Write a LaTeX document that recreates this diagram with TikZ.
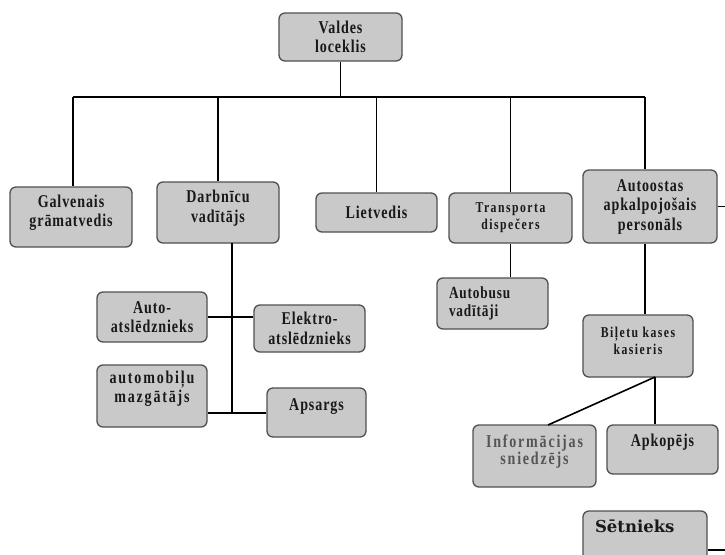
\documentclass[tikz,border=0pt]{standalone}
\usepackage{fontspec}
\setmainfont{Liberation Serif}[FakeStretch=0.78,LetterSpace=5]
\newfontfamily\wideserif{Liberation Serif}[FakeStretch=0.78,LetterSpace=10]
\newfontfamily\setfont{DejaVu Serif}
\definecolor{boxfill}{RGB}{201,201,201}
\definecolor{boxline}{RGB}{80,80,80}
\definecolor{txtgray}{RGB}{85,85,85}
\begin{document}
\begin{tikzpicture}[x=1pt,y=-1pt,
  box/.style={draw=boxline, fill=boxfill, line width=1.3pt, rounded corners=6pt,
    inner sep=0pt, align=center, text=black!90,
    font=\fontsize{18}{19.5}\selectfont\bfseries},
  smallbox/.style={box, font=\wideserif\fontsize{15}{17}\selectfont\bfseries},
  link/.style={line width=1.6pt, black}]
\useasboundingbox (0,0) rectangle (725,554);
\clip (0,0) rectangle (725,554);

% boxes
\node[box, minimum width=123pt, minimum height=48pt] (valdes) at (340.5,37) {Valdes\\loceklis};
\node[box, minimum width=122pt, minimum height=60pt, text depth=12pt] (galv) at (71,217) {Galvenais\\grāmatvedis};
\node[box, minimum width=122pt, minimum height=61pt, text depth=12pt] (darb) at (218,212.5) {Darbnīcu\\vadītājs};
\node[box, minimum width=121pt, minimum height=39pt] (liet) at (376.5,212.5) {Lietvedis};
\node[smallbox, minimum width=123pt, minimum height=50pt] (trans) at (510.5,218) {Transporta\\dispečers};
\node[box, minimum width=134pt, minimum height=73pt] (auto) at (650,206.5) {Autoostas\\apkalpojošais\\personāls};
\node[box, minimum width=111pt, minimum height=51pt, align=left, text width=87pt,
  font=\fontsize{17}{18}\selectfont\bfseries] (autob) at (492.5,303.5) {Autobusu\\vadītāji};
\node[smallbox, minimum width=110pt, minimum height=62pt, text depth=11pt] (bilet) at (638,346) {Biļetu kases\\kasieris};
\node[box, minimum width=123pt, minimum height=62pt, text depth=13pt, text=txtgray,
  font=\wideserif\fontsize{18}{17.5}\selectfont\bfseries] (info) at (534.5,456) {Informācijas\\sniedzējs};
\node[box, minimum width=111pt, minimum height=49pt, text depth=19pt] (apk) at (662.5,449.5) {Apkopējs};
\node[box, minimum width=124pt, minimum height=69pt, align=left, text width=100pt,
  text height=12pt, text depth=39pt, font=\setfont\fontsize{16.5}{18}\selectfont\bfseries] (set) at (645,545.5) {Sētnieks};
\node[box, minimum width=110pt, minimum height=50pt] (autoat) at (152,317) {Auto-\\atslēdznieks};
\node[box, minimum width=111pt, minimum height=47pt] (elek) at (309.5,328.5) {Elektro-\\atslēdznieks};
\node[box, minimum width=110pt, minimum height=62pt, text depth=19pt,
  font=\wideserif\fontsize{18}{19.5}\selectfont\bfseries] (mazg) at (152,396) {automobiļu\\mazgātājs};
\node[box, minimum width=99pt, minimum height=49pt, text depth=15pt] (aps) at (316.5,412.5) {Apsargs};

% connectors
\coordinate (busL) at (73,97);
\coordinate (busR) at (645,97);
\draw[link] (busL) -- (busR);
\draw[link] (valdes.south) -- (valdes.south |- busL);
\draw[link] (busL) -- (busL |- galv.north);
\draw[link] (darb.north) -- (darb.north |- busL);
\draw[link] (liet.north) -- (liet.north |- busL);
\draw[link] (trans.north) -- (trans.north |- busL);
\draw[link] (busR) -- (busR |- auto.north);
\draw[link] (trans.south) -- (trans.south |- autob.north);
\draw[link] (busR |- auto.south) -- (busR |- bilet.north);
\coordinate (edgeA) at (725,206.5);
\draw[link] (auto.east) -- (edgeA);
\coordinate (bj) at (655,377);
\coordinate (infoJ) at (548,425);
\draw[link] (bj) -- (bj |- apk.north);
\draw[link] (bj) -- (infoJ);
\coordinate (dTop) at (232,243);
\coordinate (dBot) at (232,413);
\draw[link] (dTop) -- (dBot);
\draw[link] (autoat.east) -- (autoat.east -| elek.west);
\draw[link] (mazg.east |- dBot) -- (aps.west |- dBot);
\coordinate (edgeB) at (725,550);
\draw[link] (set.east |- edgeB) -- (edgeB);
\end{tikzpicture}
\end{document}
